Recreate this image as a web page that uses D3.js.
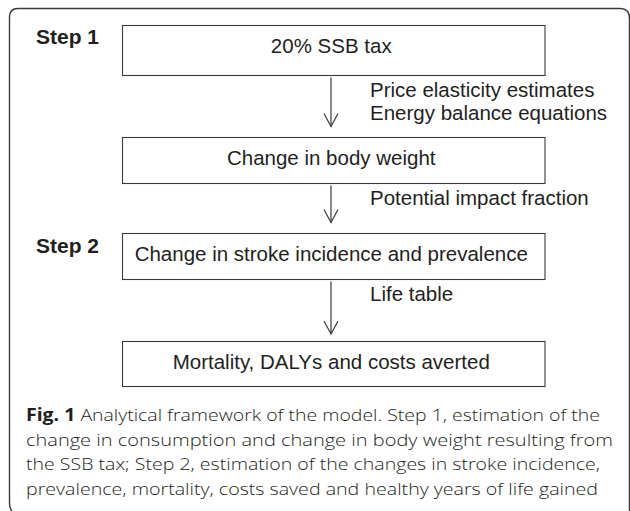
<!DOCTYPE html>
<html>
<head>
<meta charset="utf-8">
<script src="https://cdn.jsdelivr.net/npm/d3@7"></script>
<style>
  html, body { margin: 0; padding: 0; background: #fff; }
  svg { display: block; }
</style>
</head>
<body>
<svg id="chart" width="630" height="511"></svg>
<script>
// Flow chart content
var box_labels = [
  "20% SSB tax",
  "Change in body weight",
  "Change in stroke incidence and prevalence",
  "Mortality, DALYs and costs averted"
];

// Text beside each arrow (arrow i goes from box i to box i+1)
var arrow_labels = [
  ["Price elasticity estimates", "Energy balance equations"],
  ["Potential impact fraction"],
  ["Life table"]
];

var step_labels = ["Step 1", "Step 2"];
var step_rows   = [0, 2];   // box each step label sits beside

var caption_lead  = "Fig. 1";
var caption_lines = [
  " Analytical framework of the model. Step 1, estimation of the",
  "change in consumption and change in body weight resulting from",
  "the SSB tax; Step 2, estimation of the changes in stroke incidence,",
  "prevalence, mortality, costs saved and healthy years of life gained"
];

// Layout
var TEXT_COLOR = "#231f20";
var LINE_COLOR = "#3a3a3a";
var BOX_FONT   = "'Liberation Sans', Arial, Helvetica, sans-serif";

var svg = d3.select("#chart");

// box tops / heights are not evenly spaced in the original, so an ordinal scale holds them
var box_top    = d3.scaleOrdinal().domain(d3.range(box_labels.length)).range([25, 137, 233, 341]);
var box_height = d3.scaleOrdinal().domain(d3.range(box_labels.length)).range([50, 46, 46, 45]);
var box_x      = d3.scaleLinear().domain([0, 1]).range([122, 544.5]);

// Outer frame (only top and left edges are visible)
svg.append("path")
   .attr("d", "M 15 513 Q 9.5 511 9.5 503 L 9.5 17 Q 9.5 8.5 18 8.5 L 620 8.5 Q 629.5 8.5 629.5 18 L 629.5 530")
   .attr("fill", "none")
   .attr("stroke", LINE_COLOR)
   .attr("stroke-width", 1.4);

// Boxes
var boxes = svg.append("g").attr("id", "boxes")
               .selectAll("g")
               .data(box_labels)
               .enter().append("g");

boxes.append("rect")
     .attr("x", box_x(0) + 0.5)
     .attr("y", function (d, i) { return box_top(i) + 0.5; })
     .attr("width", box_x(1) - box_x(0))
     .attr("height", function (d, i) { return box_height(i); })
     .attr("fill", "none")
     .attr("stroke", LINE_COLOR)
     .attr("stroke-width", 1.1);

boxes.append("text")
     .attr("x", box_x(0.5) - 2)
     .attr("y", function (d, i) { return box_top(i) + 27.8; })
     .attr("text-anchor", "middle")
     .attr("font-family", BOX_FONT)
     .attr("font-size", 20.5)
     .attr("fill", TEXT_COLOR)
     .text(function (d) { return d; });

// Arrows between boxes
var ARROW_X = 331;

var arrows = svg.append("g").attr("id", "arrows")
                .selectAll("g")
                .data(arrow_labels)
                .enter().append("g");

function arrow_start(i) { return box_top(i) + box_height(i) + 2.5; }
function arrow_end(i)   { return box_top(i + 1) - (i === 2 ? 7 : 10.5); }

arrows.append("line")
      .attr("x1", ARROW_X).attr("x2", ARROW_X)
      .attr("y1", function (d, i) { return arrow_start(i); })
      .attr("y2", function (d, i) { return arrow_end(i); })
      .attr("stroke", LINE_COLOR)
      .attr("stroke-width", 1.2);

arrows.append("path")
      .attr("d", function (d, i) {
        var y = arrow_end(i);
        return "M " + (ARROW_X - 7) + " " + (y - 13) + " L " + ARROW_X + " " + y + " L " + (ARROW_X + 7) + " " + (y - 13);
      })
      .attr("fill", "none")
      .attr("stroke", LINE_COLOR)
      .attr("stroke-width", 1.2);

arrows.each(function (d, i) {
  d3.select(this).selectAll("text")
    .data(d)
    .enter().append("text")
    .attr("x", 370)
    .attr("y", function (t, j) { return arrow_start(i) + 19 + j * 23; })
    .attr("font-family", BOX_FONT)
    .attr("font-size", 20.5)
    .attr("fill", TEXT_COLOR)
    .text(function (t) { return t; });
});

// Step labels
svg.append("g").attr("id", "steps")
   .selectAll("text")
   .data(step_labels)
   .enter().append("text")
   .attr("x", 36)
   .attr("y", function (d, i) { return box_top(step_rows[i]) + (i === 0 ? 19 : 20); })
   .attr("font-family", BOX_FONT)
   .attr("font-weight", "bold")
   .attr("font-size", 21)
   .attr("fill", TEXT_COLOR)
   .text(function (d) { return d; });

// Caption
var CAPTION_FONT = "'Open Sans', 'Noto Sans', sans-serif";
var caption_widths = [574, 587, 574, 572];

var cap = svg.append("g").attr("id", "caption")
             .selectAll("text")
             .data(caption_lines)
             .enter().append("text")
             .attr("x", 26)
             .attr("y", function (d, i) { return 421 + i * 24.7; })
             .attr("font-family", CAPTION_FONT)
             .attr("font-weight", 300)
             .attr("font-size", 17)
             .attr("fill", TEXT_COLOR)
             .attr("textLength", function (d, i) { return caption_widths[i]; })
             .attr("lengthAdjust", "spacingAndGlyphs");

cap.each(function (d, i) {
  var t = d3.select(this);
  if (i === 0) {
    t.append("tspan").attr("font-weight", "bold").text(caption_lead);
  }
  t.append("tspan").text(d);
});
</script>
</body>
</html>
